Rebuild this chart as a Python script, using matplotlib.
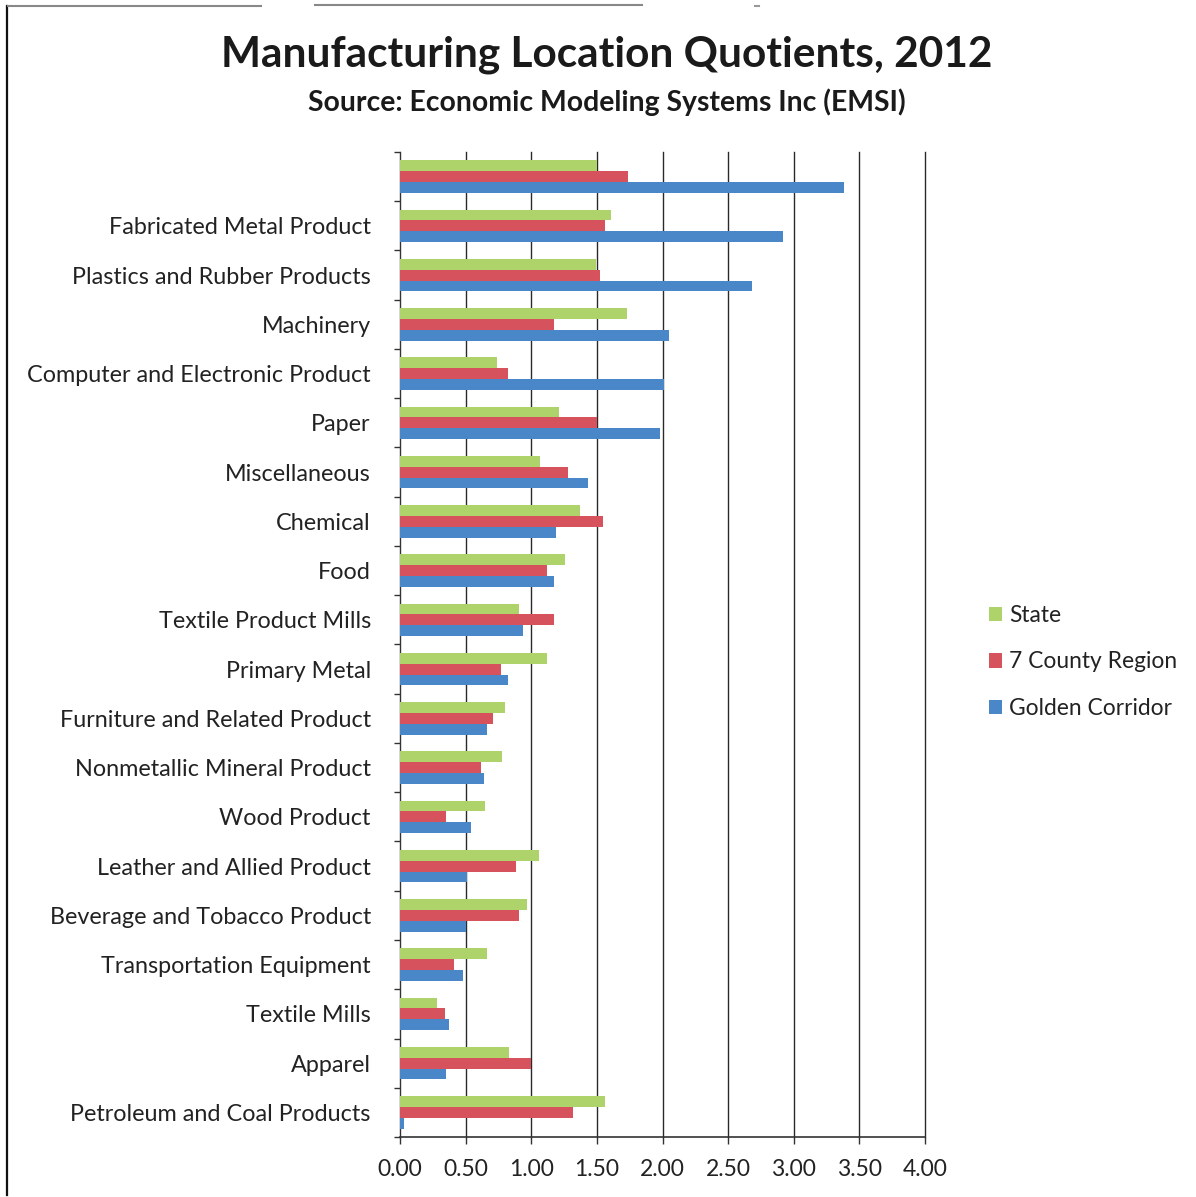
import matplotlib.pyplot as plt
import numpy as np
from matplotlib.lines import Line2D

# Location quotients by industry (top row has no industry label)
industries = ["", "Fabricated Metal Product", "Plastics and Rubber Products", "Machinery",
              "Computer and Electronic Product", "Paper", "Miscellaneous", "Chemical", "Food",
              "Textile Product Mills", "Primary Metal", "Furniture and Related Product",
              "Nonmetallic Mineral Product", "Wood Product", "Leather and Allied Product",
              "Beverage and Tobacco Product", "Transportation Equipment", "Textile Mills",
              "Apparel", "Petroleum and Coal Products"]
state = [1.50, 1.61, 1.49, 1.73, 0.74, 1.21, 1.07, 1.37, 1.26, 0.91, 1.12, 0.80, 0.78,
         0.65, 1.06, 0.97, 0.66, 0.28, 0.83, 1.56]
county_region = [1.74, 1.56, 1.52, 1.17, 0.82, 1.50, 1.28, 1.55, 1.12, 1.17, 0.77, 0.71,
                 0.62, 0.35, 0.88, 0.91, 0.41, 0.34, 1.00, 1.32]
golden_corridor = [3.38, 2.92, 2.68, 2.05, 2.01, 1.98, 1.43, 1.19, 1.17, 0.94, 0.82, 0.66,
                   0.64, 0.54, 0.51, 0.50, 0.48, 0.37, 0.35, 0.03]
x_ticks = [0.0, 0.5, 1.0, 1.5, 2.0, 2.5, 3.0, 3.5, 4.0]

plt.rcParams['font.family'] = ['Lato', 'DejaVu Sans']

W, H = 1196, 1197
fig = plt.figure(figsize=(W / 100, H / 100), dpi=100)
ax = fig.add_axes([400 / W, (H - 1137) / H, 525 / W, (1137 - 152) / H])

y = np.arange(len(industries))
bh = 0.22
ax.barh(y - bh, state, height=bh, color='#aed36a', label='State', zorder=3)
ax.barh(y, county_region, height=bh, color='#d6525c', label='7 County Region', zorder=3)
ax.barh(y + bh, golden_corridor, height=bh, color='#4a87c8', label='Golden Corridor', zorder=3)

ax.set_xlim(0, 4)
ax.set_ylim(len(industries) - 0.5, -0.5)

# vertical gridlines, including one at 4.00
for xv in x_ticks[1:]:
    ax.axvline(xv, color='#2a2a2a', lw=1.0, zorder=2, clip_on=False)

ax.set_xticks(x_ticks)
ax.set_xticklabels([f"{v:.2f}" for v in x_ticks], fontsize=16.5, color='#222222')
ax.tick_params(axis='x', direction='out', length=5, width=1, pad=11, color='#333333')

ax.set_yticks(y)
ax.set_yticklabels(industries, fontsize=16.8, color='#222222')
ax.tick_params(axis='y', which='major', length=0, pad=21)
ax.set_yticks(np.arange(-0.5, len(industries), 1.0), minor=True)
ax.tick_params(axis='y', which='minor', direction='out', length=4, width=1, color='#333333')

for side in ['top', 'right']:
    ax.spines[side].set_visible(False)
ax.spines['left'].set_color('#333333')
ax.spines['bottom'].set_color('#333333')
ax.spines['left'].set_linewidth(1.0)
ax.spines['bottom'].set_linewidth(1.2)

fig.text(607 / W, 1 - 55 / H, "Manufacturing Location Quotients, 2012", ha='center', va='center',
         fontsize=30.5, fontweight='bold', color='#1a1a1a')
fig.text(607 / W, 1 - 102 / H, "Source: Economic Modeling Systems Inc (EMSI)", ha='center',
         va='center', fontsize=20.4, fontweight='bold', color='#1a1a1a')

fig.legend(loc='center left', bbox_to_anchor=(968 / W, 1 - 662 / H), frameon=False,
           fontsize=16.4, handlelength=0.6, handleheight=0.6, handletextpad=0.3,
           labelspacing=1.12, labelcolor='#222222')

# page edge lines from the scanned sheet
fig.add_artist(Line2D([7 / W, 7 / W], [1 - 6 / H, 1 - 1195 / H], color='#111111', lw=1.6))
fig.add_artist(Line2D([8 / W, 261 / W], [1 - 6 / H, 1 - 6 / H], color='#888888', lw=1.5))
fig.add_artist(Line2D([315 / W, 642 / W], [1 - 5 / H, 1 - 5 / H], color='#888888', lw=1.5))
fig.add_artist(Line2D([755 / W, 759 / W], [1 - 6 / H, 1 - 6 / H], color='#999999', lw=1.5))

fig.savefig('out.png', dpi=100, facecolor='white')
